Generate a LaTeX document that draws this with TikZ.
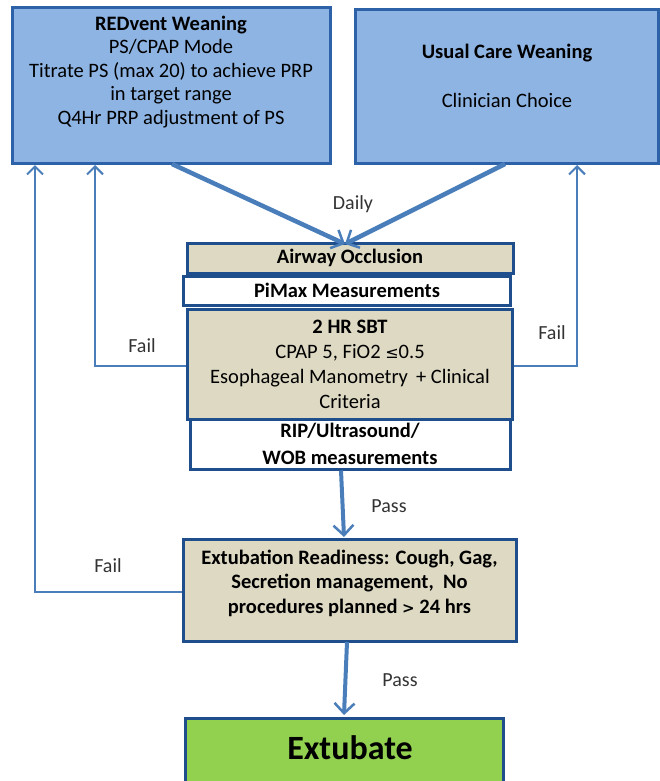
\documentclass[tikz,border=0pt]{standalone}
\usepackage{fontspec}
\setmainfont{Carlito}
\usetikzlibrary{arrows.meta}
\definecolor{topfill}{HTML}{8EB4E3}
\definecolor{topedge}{HTML}{2E62A8}
\definecolor{tanfill}{HTML}{DDD9C3}
\definecolor{midedge}{HTML}{1F4E8C}
\definecolor{arrowcol}{HTML}{4A7EBB}
\definecolor{greenfill}{HTML}{92D050}
\tikzset{
  topbox/.style={draw=topedge, line width=3pt, fill=topfill, rectangle, inner sep=0pt},
  tanbox/.style={draw=midedge, line width=3pt, fill=tanfill, rectangle, inner sep=0pt},
  whitebox/.style={draw=midedge, line width=3pt, fill=white, rectangle, inner sep=0pt},
  greenbox/.style={draw=midedge, line width=3pt, fill=greenfill, rectangle, inner sep=0pt},
  txt/.style={align=center, inner sep=0pt, font=\fontsize{20.5}{23.5}\selectfont},
  lbl/.style={inner sep=0pt, font=\fontsize{20}{22}\selectfont, text=black!80},
  barb/.style={-{Straight Barb[length=10pt, width=20pt, line width=2.5pt]}},
  bigarrow/.style={draw=arrowcol, line width=4.5pt, barb},
  midarrow/.style={draw=arrowcol, line width=4pt, barb},
  failarrow/.style={draw=arrowcol, line width=2.5pt, -{Straight Barb[length=8pt, width=16pt, line width=2pt]}},
}
\begin{document}
\begin{tikzpicture}[x=1pt, y=-1pt]
\useasboundingbox (0,0) rectangle (660,781);
\clip (0,0) rectangle (660,781);

% top boxes
\node[topbox, minimum width=318pt, minimum height=155pt] (red) at (171,85.5) {};
\node[txt] (redtxt) at (171,72) {\textbf{REDvent Weaning}\\PS/CPAP Mode\\Titrate PS (max 20) to achieve PRP\\in target range\\Q4Hr PRP adjustment of PS};
\node[topbox, minimum width=303pt, minimum height=153pt] (usual) at (507,86.5) {};
\node[txt, font=\fontsize{20.5}{49}\selectfont] (usualtxt) at (507,76) {\textbf{Usual Care Weaning}\\Clinician Choice};

% middle stack
\node[tanbox, minimum width=326pt, minimum height=30pt, txt, font=\bfseries\fontsize{20.5}{22}\selectfont] (airway) at (350,258) {Airway Occlusion};
\node[whitebox, minimum width=327pt, minimum height=29pt, txt, font=\bfseries\fontsize{20.5}{22}\selectfont] (pimax) at (347,290.5) {PiMax Measurements};
\node[whitebox, minimum width=320pt, minimum height=50pt, txt, font=\bfseries\fontsize{20.5}{27}\selectfont] (rip) at (350,444) {RIP/Ultrasound/\\WOB measurements};
\node[tanbox, minimum width=325pt, minimum height=110pt, txt, font=\fontsize{20.5}{25}\selectfont] (sbt) at (350,364.5) {\textbf{2 HR SBT}\\CPAP 5, FiO2 {\fontspec{DejaVu Sans}\fontsize{16}{16}\selectfont ≤}0.5\\Esophageal Manometry \,+ Clinical\\Criteria};

% extubation readiness
\node[tanbox, minimum width=333pt, minimum height=102pt] (ready) at (349.5,590) {};
\node[txt, font=\bfseries\fontsize{20.5}{24.5}\selectfont] (readytxt) at (349.5,583) {Extubation Readiness: Cough, Gag,\\Secretion management, \ No\\procedures planned {\fontspec{DejaVu Sans}\bfseries\fontsize{15}{15}\selectfont >} 24 hrs};

% extubate
\node[greenbox, minimum width=318pt, minimum height=75pt, anchor=north] (ext) at (344,717) {};
\node[inner sep=0pt, font=\bfseries\fontsize{34}{38}\selectfont] (exttxt) at (350,748) {Extubate};

% daily arrows
\coordinate (meet) at (345,244);
\draw[bigarrow] (172,164) -- (meet);
\draw[bigarrow] (505,164) -- (meet);
\node[lbl] (daily) at (353,204) {Daily};

% pass arrows
\draw[midarrow] (rip.south -| 341,0) -- (344,537);
\node[lbl] (pass1) at (389,506) {Pass};
\draw[midarrow] (347,642) -- (344,715);
\node[lbl] (pass2) at (400,680) {Pass};

% fail arrows
\draw[failarrow] (sbt.west |- 0,366) -- (95,366) -- (95,165);
\draw[failarrow] (sbt.east |- 0,366) -- (577,366) -- (577,165);
\draw[failarrow] (ready.west |- 0,592) -- (35,592) -- (35,165);
\node[lbl] (fail1) at (142,346) {Fail};
\node[lbl] (fail2) at (552,333) {Fail};
\node[lbl] (fail3) at (108,566) {Fail};
\end{tikzpicture}
\end{document}
